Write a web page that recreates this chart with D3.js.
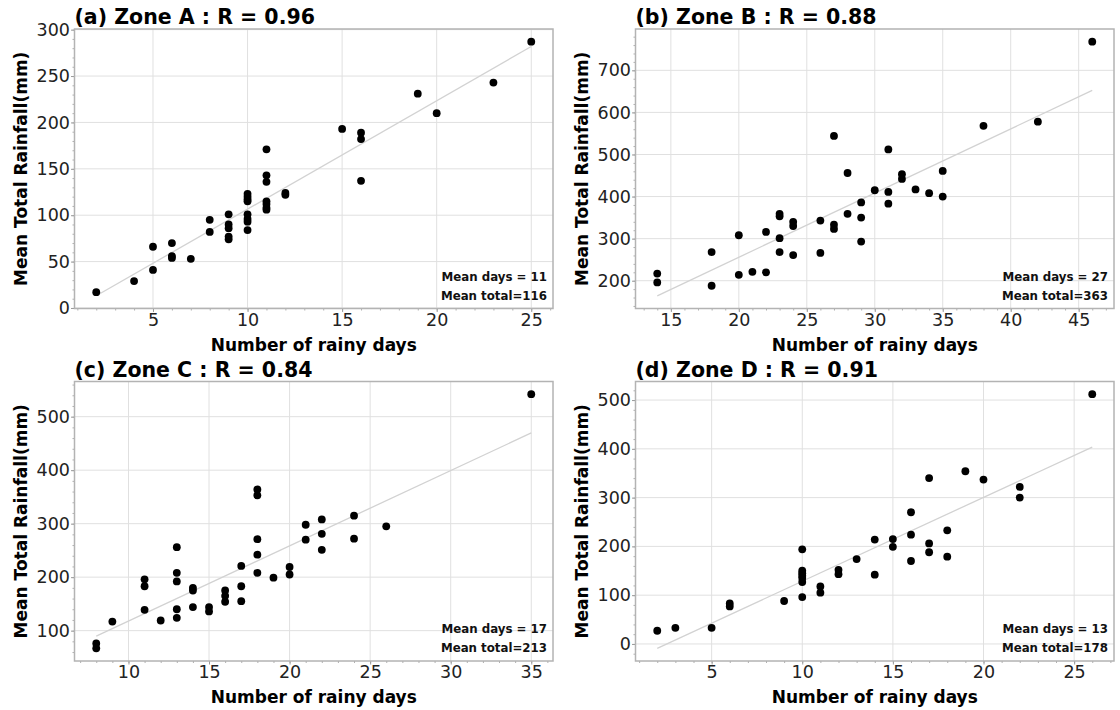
<!DOCTYPE html>
<html>
<head>
<meta charset="utf-8">
<script src="https://cdn.jsdelivr.net/npm/d3@7/dist/d3.min.js"></script>
<style>
  html, body { margin: 0; padding: 0; background: #ffffff; }
  svg { display: block; font-family: "DejaVu Sans", sans-serif; }
</style>
</head>
<body>
<svg id="chart" width="1120" height="710"></svg>
<script>
// Rainy days vs. mean total rainfall, one scatter per zone
const zoneADays   = [2,4,5,5,6,6,6,7,8,8,9,9,9,9,9,10,10,10,10,10,10,10,10,11,11,11,11,11,11,11,12,12,15,16,16,16,19,20,23,25];
const zoneATotals = [17,29,66,41,70,56,54,53,95,82,101,90,86,77,74,123,120,117,115,101,96,93,84,171,143,136,115,112,108,106,124,122,193,189,182,137,231,210,243,287];

const zoneBDays   = [14,14,18,18,20,20,21,22,22,23,23,23,23,24,24,24,26,26,27,27,27,28,28,29,29,29,30,31,31,31,32,32,33,34,35,35,38,42,46];
const zoneBTotals = [217,196,268,188,308,214,221,316,220,359,353,301,268,340,330,261,343,266,544,333,323,456,359,386,350,293,415,512,411,383,453,442,417,408,461,400,568,578,768];

const zoneCDays   = [8,8,9,11,11,11,12,13,13,13,13,13,14,14,14,15,15,16,16,16,17,17,17,18,18,18,18,18,19,20,20,21,21,22,22,22,24,24,26,35];
const zoneCTotals = [76,67,117,196,183,139,119,256,208,192,140,124,180,175,144,144,136,175,165,154,221,183,155,364,353,271,242,208,199,219,205,298,270,308,281,251,315,272,295,542];

const zoneDDays   = [2,3,5,6,6,9,10,10,10,10,10,10,10,11,11,12,12,13,14,14,15,15,16,16,16,17,17,17,18,18,19,20,22,22,26];
const zoneDTotals = [27,33,33,83,77,88,194,150,145,140,135,127,96,118,105,152,143,174,214,142,215,199,270,224,170,340,206,188,233,179,354,337,322,300,512];

const panelTitles = ["(a) Zone A : R = 0.96", "(b) Zone B : R = 0.88", "(c) Zone C : R = 0.84", "(d) Zone D : R = 0.91"];
const meanDaysLabels  = ["Mean days = 11", "Mean days = 27", "Mean days = 17", "Mean days = 13"];
const meanTotalLabels = ["Mean total=116", "Mean total=363", "Mean total=213", "Mean total=178"];

const xTicksA = [5,10,15,20,25],        yTicksA = [0,50,100,150,200,250,300];
const xTicksB = [15,20,25,30,35,40,45], yTicksB = [200,300,400,500,600,700];
const xTicksC = [10,15,20,25,30,35],    yTicksC = [100,200,300,400,500];
const xTicksD = [5,10,15,20,25],        yTicksD = [0,100,200,300,400,500];

const xLabel = "Number of rainy days";
const yLabel = "Mean Total Rainfall(mm)";

const panels = [
  { days: zoneADays, totals: zoneATotals, xt: xTicksA, yt: yTicksA },
  { days: zoneBDays, totals: zoneBTotals, xt: xTicksB, yt: yTicksB },
  { days: zoneCDays, totals: zoneCTotals, xt: xTicksC, yt: yTicksC },
  { days: zoneDDays, totals: zoneDTotals, xt: xTicksD, yt: yTicksD }
];

// plot-area boxes in a 2x2 grid
const colLeft = [74.5, 635.5], plotW = 478.5;
const rowTop  = [29, 381.5],   plotH = 279.5;

const svg = d3.select("#chart");

// least-squares fit of totals on days
function fitLine(xs, ys) {
  const mx = d3.mean(xs), my = d3.mean(ys);
  let sxy = 0, sxx = 0;
  xs.forEach((x, i) => { sxy += (x - mx) * (ys[i] - my); sxx += (x - mx) * (x - mx); });
  const b = sxy / sxx, a = my - b * mx;
  return x => a + b * x;
}

function padded(lo, hi) {
  const m = (hi - lo) * 0.05;
  return [lo - m, hi + m];
}

panels.forEach((p, i) => {
  const left = colLeft[i % 2], top = rowTop[Math.floor(i / 2)];
  const g = svg.append("g").attr("transform", `translate(${left},${top})`);

  const f = fitLine(p.days, p.totals);
  const [x0, x1] = d3.extent(p.days);
  const linePts = [[x0, f(x0)], [x1, f(x1)]];

  const x = d3.scaleLinear().domain(padded(x0, x1)).range([0, plotW]);
  const yLo = Math.min(d3.min(p.totals), f(x0), f(x1));
  const yHi = Math.max(d3.max(p.totals), f(x0), f(x1));
  const y = d3.scaleLinear().domain(padded(yLo, yHi)).range([plotH, 0]);

  // grid
  const grid = g.append("g");
  grid.selectAll(".gx").data(p.xt).join("line")
    .attr("x1", d => x(d)).attr("x2", d => x(d)).attr("y1", 0).attr("y2", plotH)
    .attr("stroke", "#e0e0e0").attr("stroke-width", 1);
  grid.selectAll(".gy").data(p.yt).join("line")
    .attr("x1", 0).attr("x2", plotW).attr("y1", d => y(d)).attr("y2", d => y(d))
    .attr("stroke", "#e0e0e0").attr("stroke-width", 1);

  // fitted line
  g.append("path")
    .attr("d", d3.line().x(d => x(d[0])).y(d => y(d[1]))(linePts))
    .attr("fill", "none").attr("stroke", "#d2d2d2").attr("stroke-width", 1.3);

  // points
  g.selectAll("circle").data(p.days.map((d, k) => [d, p.totals[k]])).join("circle")
    .attr("cx", d => x(d[0])).attr("cy", d => y(d[1])).attr("r", 3.9)
    .attr("fill", "#000");

  // axes with major and minor ticks
  const xStep = p.xt[1] - p.xt[0], yStep = p.yt[1] - p.yt[0];
  const xMinor = d3.range(Math.ceil(x.domain()[0] / (xStep / 5)) * (xStep / 5), x.domain()[1], xStep / 5);
  const yMinor = d3.range(Math.ceil(y.domain()[0] / (yStep / 5)) * (yStep / 5), y.domain()[1], yStep / 5);

  const xMinorAxis = g.append("g").attr("transform", `translate(0,${plotH})`)
    .call(d3.axisBottom(x).tickValues(xMinor).tickSize(2).tickFormat(""));
  const yMinorAxis = g.append("g")
    .call(d3.axisLeft(y).tickValues(yMinor).tickSize(2).tickFormat(""));
  [xMinorAxis, yMinorAxis].forEach(a => {
    a.select(".domain").remove();
    a.selectAll("line").attr("stroke", "#9a9a9a").attr("stroke-width", 0.8);
  });

  const xAxis = g.append("g").attr("transform", `translate(0,${plotH})`)
    .call(d3.axisBottom(x).tickValues(p.xt).tickSize(3.5).tickPadding(1.4).tickFormat(d3.format("d")));
  const yAxis = g.append("g")
    .call(d3.axisLeft(y).tickValues(p.yt).tickSize(3.5).tickPadding(1).tickFormat(d3.format("d")));
  [xAxis, yAxis].forEach(a => {
    a.select(".domain").remove();
    a.selectAll("line").attr("stroke", "#9a9a9a").attr("stroke-width", 1);
    a.selectAll("text").attr("font-size", 17.5).attr("fill", "#222")
      .attr("font-family", "DejaVu Sans, sans-serif");
  });

  // frame
  g.append("rect").attr("x", 0).attr("y", 0).attr("width", plotW).attr("height", plotH)
    .attr("fill", "none").attr("stroke", "#b3b3b3").attr("stroke-width", 1.5);

  // title
  g.append("text").attr("x", 0).attr("y", -5)
    .attr("font-size", 20.5).attr("font-weight", "bold").attr("fill", "#000")
    .text(panelTitles[i]);

  // axis labels
  g.append("text").attr("x", plotW / 2).attr("y", plotH + 42)
    .attr("text-anchor", "middle").attr("font-size", 17).attr("font-weight", "bold").attr("fill", "#000")
    .text(xLabel);
  g.append("text").attr("transform", `translate(${-48},${plotH / 2}) rotate(-90)`)
    .attr("text-anchor", "middle").attr("font-size", 17).attr("font-weight", "bold").attr("fill", "#000")
    .text(yLabel);

  // summary notes
  g.append("text").attr("x", plotW - 6).attr("y", plotH - 28)
    .attr("text-anchor", "end").attr("font-size", 11.8).attr("font-weight", "bold").attr("fill", "#111")
    .text(meanDaysLabels[i]);
  g.append("text").attr("x", plotW - 6).attr("y", plotH - 9)
    .attr("text-anchor", "end").attr("font-size", 11.8).attr("font-weight", "bold").attr("fill", "#111")
    .text(meanTotalLabels[i]);
});
</script>
</body>
</html>
